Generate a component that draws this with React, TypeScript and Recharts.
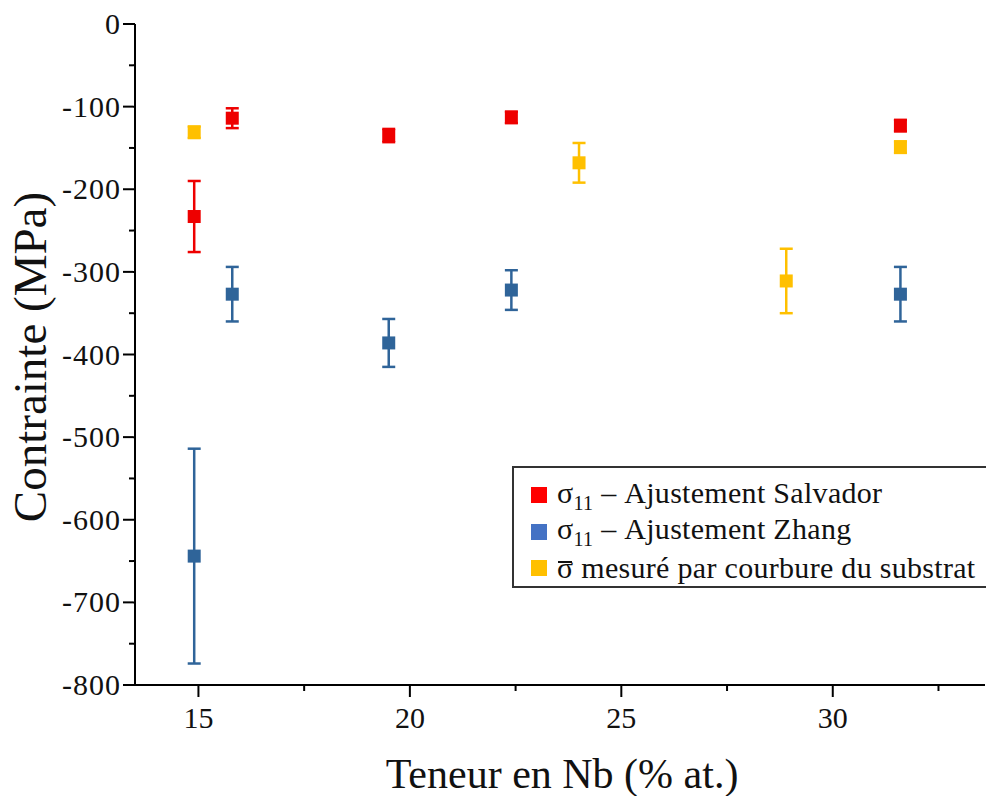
import React from "react";
import {
  ScatterChart,
  Scatter,
  XAxis,
  YAxis,
  ErrorBar,
} from "recharts";

// Teneur en Nb (% at.)
const salvadorX = [14.9, 15.8, 19.5, 22.4, 31.6];
const salvadorY = [-233, -114, -135, -113, -123];
const salvadorErr = [43, 12, 8, 7, 7];

const zhangX = [14.9, 15.8, 19.5, 22.4, 31.6];
const zhangY = [-644, -327, -386, -322, -327];
const zhangErr = [130, 33, 29, 24, 33];

const substratX = [14.9, 24.0, 28.9, 31.6];
const substratY = [-131, -168, -311, -149];
const substratErr = [7, 24, 39, 7];

const xTicks = [15, 17.5, 20, 22.5, 25, 27.5, 30, 32.5];
const yTicks = [
  -800, -750, -700, -650, -600, -550, -500, -450, -400, -350, -300, -250,
  -200, -150, -100, -50, 0,
];

const RED = "#ee0000";
const BLUE = "#2f6499";
const YELLOW = "#ffc000";

const FONT = "'Liberation Serif', 'Times New Roman', serif";

const toRows = (xs: number[], ys: number[], errs: number[]) =>
  xs.map((x, i) => ({ x, y: ys[i], err: errs[i] }));

const salvador = toRows(salvadorX, salvadorY, salvadorErr);
const zhang = toRows(zhangX, zhangY, zhangErr);
const substrat = toRows(substratX, substratY, substratErr);

const square = (color: string) => (props: any) => {
  const { cx, cy } = props;
  if (cx == null || cy == null) return <g />;
  return <rect x={cx - 6.5} y={cy - 6.5} width={13} height={13} fill={color} />;
};

const XTick = (props: any) => {
  const { x, y, payload } = props;
  const major = payload.value % 5 === 0;
  return (
    <g>
      <line x1={x} y1={y} x2={x} y2={y + (major ? 12 : 6)} stroke="#000" strokeWidth={2} />
      {major && (
        <text x={x} y={y + 43} textAnchor="middle" fontSize={30} fontFamily={FONT} fill="#111">
          {payload.value}
        </text>
      )}
    </g>
  );
};

const YTick = (props: any) => {
  const { x, y, payload } = props;
  const major = payload.value % 100 === 0;
  return (
    <g>
      <line x1={x} y1={y} x2={x - (major ? 12 : 6)} y2={y} stroke="#000" strokeWidth={2} />
      {major && (
        <text
          x={x - 14}
          y={y + 10}
          textAnchor="end"
          fontSize={30}
          fontFamily={FONT}
          fill="#111"
          letterSpacing={1}
        >
          {payload.value}
        </text>
      )}
    </g>
  );
};

const LegendRow = ({ color, children }: { color: string; children: React.ReactNode }) => (
  <div style={{ display: "flex", alignItems: "center", height: 36.5 }}>
    <div style={{ width: 16, height: 16, background: color, marginRight: 10 }} />
    <div>{children}</div>
  </div>
);

const SigmaBar = () => (
  <span style={{ position: "relative", display: "inline-block" }}>
    σ
    <span
      style={{
        position: "absolute",
        left: 1,
        right: 1,
        top: "0.27em",
        height: 2,
        background: "#111",
      }}
    />
  </span>
);

export default function App() {
  return (
    <div
      style={{
        position: "relative",
        width: 986,
        height: 796,
        overflow: "hidden",
        background: "#fff",
        fontFamily: FONT,
        color: "#111",
      }}
    >
      <style>{"body{margin:0}"}</style>
      <ScatterChart
        width={986}
        height={796}
        margin={{ top: 24, right: 1, bottom: 0, left: 0 }}
      >
        <XAxis
          type="number"
          dataKey="x"
          domain={[13.5, 33.6]}
          ticks={xTicks}
          interval={0}
          height={111}
          tickSize={0}
          tickMargin={0}
          tick={<XTick />}
          axisLine={{ stroke: "#000", strokeWidth: 2 }}
          allowDataOverflow
        />
        <YAxis
          type="number"
          dataKey="y"
          domain={[-800, 0]}
          ticks={yTicks}
          interval={0}
          width={135}
          tickSize={0}
          tickMargin={0}
          tick={<YTick />}
          axisLine={{ stroke: "#000", strokeWidth: 2 }}
          allowDataOverflow
        />
        <Scatter data={salvador} shape={square(RED)} isAnimationActive={false}>
          <ErrorBar dataKey="err" direction="y" width={6.5} stroke={RED} strokeWidth={2.5} />
        </Scatter>
        <Scatter data={zhang} shape={square(BLUE)} isAnimationActive={false}>
          <ErrorBar dataKey="err" direction="y" width={6.5} stroke={BLUE} strokeWidth={2.5} />
        </Scatter>
        <Scatter data={substrat} shape={square(YELLOW)} isAnimationActive={false}>
          <ErrorBar dataKey="err" direction="y" width={6.5} stroke={YELLOW} strokeWidth={2.5} />
        </Scatter>
      </ScatterChart>

      <div
        style={{
          position: "absolute",
          left: 30,
          top: 357,
          transform: "translate(-50%, -50%) rotate(-90deg)",
          fontSize: 47,
          whiteSpace: "nowrap",
          lineHeight: 1,
        }}
      >
        Contrainte (MPa)
      </div>
      <div
        style={{
          position: "absolute",
          left: 562,
          top: 774,
          transform: "translate(-50%, -50%)",
          fontSize: 42,
          whiteSpace: "nowrap",
          lineHeight: 1,
        }}
      >
        Teneur en Nb (% at.)
      </div>

      <div
        style={{
          position: "absolute",
          left: 512,
          top: 466,
          width: 490,
          height: 122,
          border: "2px solid #333",
          background: "#fff",
          boxSizing: "border-box",
          padding: "9px 0 0 17px",
          fontSize: 30,
          letterSpacing: 0.3,
          lineHeight: 1,
          whiteSpace: "nowrap",
        }}
      >
        <LegendRow color="#ff0000">
          σ<sub style={{ fontSize: 20 }}>11</sub> – Ajustement Salvador
        </LegendRow>
        <LegendRow color="#4472c4">
          σ<sub style={{ fontSize: 20 }}>11</sub> – Ajustement Zhang
        </LegendRow>
        <LegendRow color="#ffc000">
          <SigmaBar /> mesuré par courbure du substrat
        </LegendRow>
      </div>
    </div>
  );
}
